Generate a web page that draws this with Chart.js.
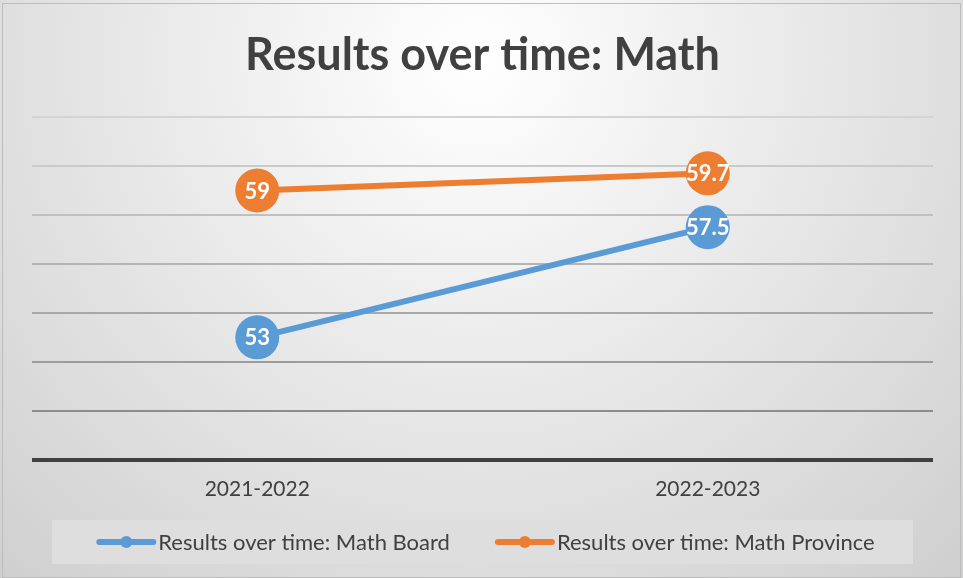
<!DOCTYPE html>
<html>
<head>
<meta charset="utf-8">
<title>Results over time: Math</title>
<script src="https://cdn.jsdelivr.net/npm/chart.js@4.4.1/dist/chart.umd.min.js"></script>
<style>
    html, body { margin: 0; padding: 0; background: #ffffff; }
    #wrap { position: relative; width: 963px; height: 578px; }
</style>
</head>
<body>
<div id="wrap"><canvas id="mathChart"></canvas></div>
<script>
// ============================================================
// Data
// ============================================================
const years = ['2021-2022', '2022-2023'];
const boardScores = [53, 57.5];
const provinceScores = [59, 59.7];
const seriesNames = ['Results over time: Math Board', 'Results over time: Math Province'];
const chartTitle = 'Results over time: Math';

const BLUE = '#5b9bd5';
const ORANGE = '#ed7d31';
const TEXT = '#404040';
const FONT = 'Lato, "Open Sans", sans-serif';

// Light grey radial fill + thin frame, like the Office chart style
const backdrop = {
    id: 'backdrop',
    beforeDraw(chart) {
        const { ctx, width, height } = chart;
        ctx.save();
        const g = ctx.createRadialGradient(475, 60, 0, 475, 60, 900);
        g.addColorStop(0, '#ffffff');
        g.addColorStop(1, '#c2c2c2');
        ctx.fillStyle = g;
        ctx.fillRect(0, 0, width, height);
        ctx.strokeStyle = '#bdbdbd';
        ctx.lineWidth = 1;
        ctx.strokeRect(2.5, 3.5, width - 5, height - 4);
        ctx.restore();
    }
};

// Value written in white inside each marker
const pointLabels = {
    id: 'pointLabels',
    afterDatasetsDraw(chart) {
        const { ctx } = chart;
        ctx.save();
        ctx.font = 'bold 22px ' + FONT;
        ctx.fillStyle = '#ffffff';
        ctx.textAlign = 'center';
        ctx.textBaseline = 'middle';
        chart.data.datasets.forEach((ds, i) => {
            chart.getDatasetMeta(i).data.forEach((pt, j) => {
                ctx.fillText(String(ds.data[j]), pt.x, pt.y + 1);
            });
        });
        ctx.restore();
    }
};

// Legend in a pale box under the axis
const boxLegend = {
    id: 'boxLegend',
    afterDraw(chart) {
        const { ctx, chartArea } = chart;
        const top = 520, h = 44, cy = top + h / 2;
        ctx.save();
        ctx.fillStyle = '#dedede';
        ctx.fillRect(chartArea.left + 20, top, chartArea.right - chartArea.left - 40, h);

        ctx.font = '22px ' + FONT;
        ctx.textBaseline = 'middle';
        const markW = 60, gap = 2, itemGap = 45;
        const items = chart.data.datasets.map(ds => ({
            label: ds.label,
            color: ds.borderColor,
            w: markW + gap + ctx.measureText(ds.label).width
        }));
        const total = items.reduce((s, it) => s + it.w, 0) + itemGap * (items.length - 1);
        let x = (chartArea.left + chartArea.right) / 2 - total / 2 + 3;
        items.forEach(it => {
            ctx.strokeStyle = it.color;
            ctx.lineWidth = 6;
            ctx.lineCap = 'round';
            ctx.beginPath();
            ctx.moveTo(x + 3, cy);
            ctx.lineTo(x + markW - 3, cy);
            ctx.stroke();
            ctx.fillStyle = it.color;
            ctx.beginPath();
            ctx.arc(x + markW / 2, cy, 6, 0, Math.PI * 2);
            ctx.fill();
            ctx.fillStyle = TEXT;
            ctx.fillText(it.label, x + markW + gap, cy + 1);
            x += it.w + itemGap;
        });
        ctx.restore();
    }
};

// Gridlines get darker towards the bottom; the 48 line is the axis
function gridColor(ctx) {
    const v = ctx.tick ? ctx.tick.value : 0;
    if (v <= 48) return '#404040';
    const shades = { 50: '#8c8c8c', 52: '#9c9c9c', 54: '#a8a8a8', 56: '#b4b4b4', 58: '#c0c0c0', 60: '#cacaca', 62: '#d4d4d4' };
    return shades[v] || '#c0c0c0';
}

const series = [
    { label: seriesNames[0], data: boardScores, color: BLUE },
    { label: seriesNames[1], data: provinceScores, color: ORANGE }
];

new Chart(document.getElementById('mathChart'), {
    type: 'line',
    data: {
        labels: years,
        datasets: series.map(s => ({
            label: s.label,
            data: s.data,
            borderColor: s.color,
            backgroundColor: s.color,
            borderWidth: 6,
            pointRadius: 22,
            pointHoverRadius: 22,
            pointBorderWidth: 0,
            pointBackgroundColor: s.color,
            tension: 0,
            clip: false
        }))
    },
    options: {
        responsive: true,
        maintainAspectRatio: false,
        animation: false,
        layout: { padding: { left: 32, right: 30, top: 0, bottom: 59 } },
        plugins: {
            legend: { display: false },
            tooltip: { enabled: false },
            title: {
                display: true,
                text: chartTitle,
                color: TEXT,
                font: { family: FONT, size: 45, weight: 'bold' },
                padding: { top: 28, bottom: 35 }
            }
        },
        scales: {
            x: {
                offset: true,
                grid: { display: false, drawTicks: false },
                border: { display: false },
                ticks: {
                    color: TEXT,
                    font: { family: FONT, size: 21 },
                    padding: 17
                }
            },
            y: {
                min: 48,
                max: 62,
                ticks: { display: false, stepSize: 2 },
                border: { display: false },
                grid: {
                    drawTicks: false,
                    color: gridColor,
                    lineWidth: ctx => (ctx.tick && ctx.tick.value <= 48 ? 4 : 2)
                }
            }
        }
    },
    plugins: [backdrop, pointLabels, boxLegend]
});
</script>
</body>
</html>
